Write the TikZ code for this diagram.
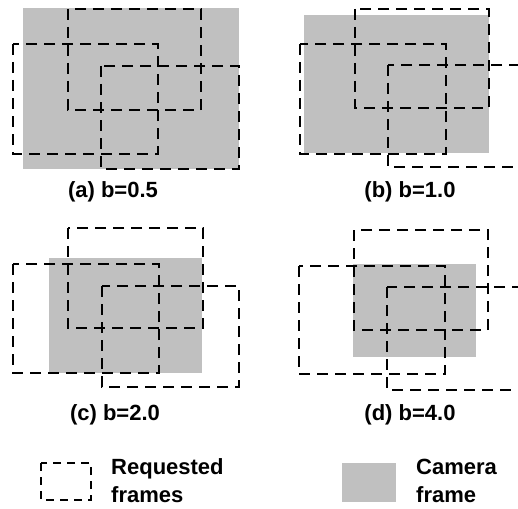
\documentclass[tikz,border=0pt]{standalone}
\usepackage{fontspec}
\setmainfont{Liberation Sans}
\definecolor{camgray}{RGB}{192,192,192}
\begin{document}
\begin{tikzpicture}[x=1pt,y=-1pt,
  camera/.style={fill=camgray},
  request/.style={draw=black, line width=2.2pt, dash pattern=on 11pt off 7pt},
  caption/.style={font=\fontsize{22}{26}\selectfont\bfseries, inner sep=0pt, anchor=base},
  legendtext/.style={font=\fontsize{22}{26}\selectfont\bfseries, inner sep=0pt, anchor=base west}]
\clip (0,0) rectangle (518,508);

% (a) b=0.5
\fill[camera] (23,8) rectangle (239,169);
\draw[request] (68,9) rectangle (201,110);
\draw[request] (13,44) rectangle (158,154);
\draw[request] (101,66) rectangle (239,169);
\node[caption] (capa) at (113,197) {(a) b=0.5};

% (b) b=1.0
\fill[camera] (304,15) rectangle (489,153);
\draw[request] (355,9) rectangle (489,108);
\draw[request] (300,44) rectangle (446,154);
\draw[request] (388,65) rectangle (532,167);
\node[caption] (capb) at (410,197) {(b) b=1.0};

% (c) b=2.0
\fill[camera] (49,258) rectangle (202,373);
\draw[request] (68,228) rectangle (203,328);
\draw[request] (13,264) rectangle (159,373);
\draw[request] (102,286) rectangle (239,387);
\node[caption] (capc) at (115,420) {(c) b=2.0};

% (d) b=4.0
\fill[camera] (353,264) rectangle (476,357);
\draw[request] (354,230) rectangle (488,330);
\draw[request] (299,266) rectangle (445,374);
\draw[request] (387,287) rectangle (532,390);
\node[caption] (capd) at (410,420) {(d) b=4.0};

% legend
\draw[request, dash pattern=on 8pt off 6pt] (41,463) rectangle (91,500);
\node[legendtext] (req1) at (111,474) {Requested};
\node[legendtext] (req2) at (111,502) {frames};
\fill[camera] (342,463) rectangle (396,502);
\node[legendtext] (cam1) at (416,474) {Camera};
\node[legendtext] (cam2) at (416,502) {frame};
\end{tikzpicture}
\end{document}
